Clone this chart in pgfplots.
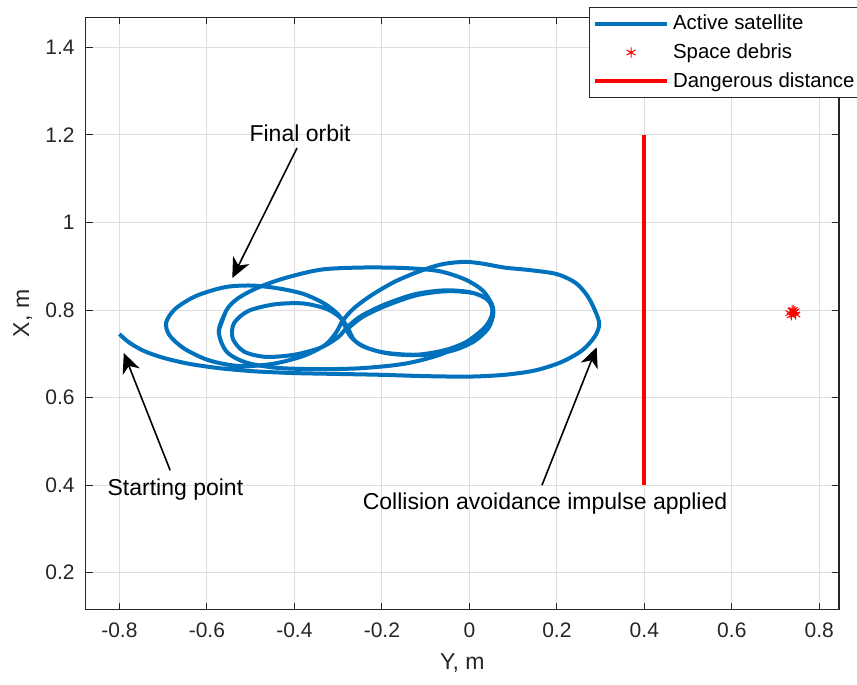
\documentclass[border=0pt]{standalone}
\usepackage{pgfplots}
\pgfplotsset{compat=1.18}
\usepackage{fontspec}
\setmainfont{Liberation Sans}
\usetikzlibrary{arrows.meta}
\definecolor{matblue}{rgb}{0,0.447,0.741}
\definecolor{axgray}{rgb}{0.15,0.15,0.15}
\definecolor{gridgray}{rgb}{0.87,0.87,0.87}
\pgfplotsset{
    linelegend/.style={legend image code/.code={\draw[##1] (0pt,0pt) -- (36pt,0pt);}},
    marklegend/.style={legend image code/.code={\draw[##1] plot coordinates {(18pt,0pt)};}},
}
\begin{document}
\begin{tikzpicture}
\begin{axis}[
    name=ax,
    scale only axis,
    width=376.5pt,
    height=296pt,
    xmin=-0.877, xmax=0.845,
    ymin=0.116, ymax=1.4686,
    xtick={-0.8,-0.6,-0.4,-0.2,0,0.2,0.4,0.6,0.8},
    ytick={0.2,0.4,0.6,0.8,1,1.2,1.4},
    xticklabels={-0.8,-0.6,-0.4,-0.2,0,0.2,0.4,0.6,0.8},
    yticklabels={0.2,0.4,0.6,0.8,1,1.2,1.4},
    tick label style={font=\fontsize{10.5}{12}\selectfont, text=axgray},
    xticklabel style={yshift=-3pt},
    yticklabel style={xshift=-2pt},
    xlabel={Y, m},
    ylabel={X, m},
    every axis x label/.style={at={(rel axis cs:0.5,0)}, anchor=center, yshift=-27pt,
        font=\fontsize{11.5}{13}\selectfont, text=axgray},
    every axis y label/.style={at={(rel axis cs:0,0.5)}, anchor=center, xshift=-31.5pt, rotate=90,
        font=\fontsize{11.5}{13}\selectfont, text=axgray},
    grid=major,
    major grid style={gridgray, line width=0.5pt},
    tick align=inside,
    major tick length=3.5pt,
    tick style={axgray, line width=0.5pt},
    axis line style={axgray, line width=0.6pt},
    legend style={at={(0.6675,1.0169)}, anchor=north west, draw=axgray, line width=0.5pt,
        font=\fontsize{10.2}{12}\selectfont, cells={anchor=west}, row sep=1.5pt,
        inner xsep=2pt, inner ysep=1.5pt},
]
% satellite trajectory: tail, right loop, then lobes around the knot
\addplot[matblue, line width=2pt, smooth, linelegend] coordinates {
(-0.800,0.745) (-0.778,0.726) (-0.745,0.707) (-0.700,0.691) (-0.640,0.677)
(-0.570,0.667) (-0.490,0.660) (-0.400,0.656) (-0.300,0.654) (-0.200,0.652)
(-0.100,0.649) (0.000,0.648) (0.080,0.652) (0.150,0.662) (0.210,0.681)
(0.258,0.708) (0.287,0.740) (0.297,0.768) (0.288,0.797) (0.270,0.832)
(0.243,0.862) (0.200,0.882) (0.140,0.891) (0.080,0.897) (0.030,0.906)
(-0.010,0.910) (-0.060,0.905) (-0.110,0.890) (-0.170,0.865) (-0.225,0.833)
(-0.265,0.803) (-0.290,0.775) (-0.305,0.748)
(-0.330,0.720) (-0.380,0.695) (-0.450,0.677) (-0.525,0.672) (-0.595,0.685)
(-0.652,0.712) (-0.686,0.743) (-0.693,0.772) (-0.672,0.803) (-0.625,0.832)
(-0.560,0.852) (-0.500,0.856) (-0.440,0.850) (-0.380,0.837) (-0.332,0.815)
(-0.300,0.790) (-0.285,0.765)
(-0.272,0.740) (-0.245,0.718) (-0.195,0.703) (-0.120,0.698) (-0.050,0.710)
(0.005,0.733) (0.040,0.763) (0.053,0.796) (0.042,0.823) (0.005,0.840)
(-0.055,0.845) (-0.125,0.836) (-0.195,0.812) (-0.248,0.786) (-0.278,0.762)
(-0.300,0.738) (-0.340,0.714) (-0.400,0.698) (-0.465,0.693) (-0.515,0.705)
(-0.541,0.735) (-0.538,0.770) (-0.505,0.798) (-0.445,0.813) (-0.380,0.815)
(-0.325,0.802) (-0.292,0.780) (-0.276,0.755)
(-0.262,0.730) (-0.230,0.712) (-0.180,0.700) (-0.110,0.697) (-0.040,0.707)
(0.010,0.728) (0.043,0.758) (0.055,0.793) (0.047,0.820) (0.012,0.838)
(-0.050,0.843) (-0.120,0.834) (-0.190,0.810) (-0.243,0.785) (-0.275,0.760)
};
\addlegendentry{Active satellite}
\addplot[red, only marks, mark=asterisk, mark size=2.6pt, line width=0.5pt, marklegend] coordinates {
(0.733,0.793) (0.738,0.798) (0.742,0.795) (0.746,0.790) (0.740,0.800)
(0.736,0.788) (0.744,0.797)
};
\addlegendentry{Space debris}
\addplot[red, line width=2pt, linelegend] coordinates {(0.4,0.4) (0.4,1.2)};
\addlegendentry{Dangerous distance}
% big loop through the left middle lobe
\addplot[matblue, line width=2pt, smooth, forget plot] coordinates {
(-0.573,0.752) (-0.555,0.800) (-0.530,0.826) (-0.486,0.850) (-0.425,0.872)
(-0.341,0.892) (-0.250,0.897) (-0.150,0.896) (-0.070,0.889) (-0.010,0.870)
(0.030,0.845) (0.050,0.815) (0.052,0.790) (0.035,0.760) (-0.010,0.725)
(-0.070,0.697) (-0.150,0.677) (-0.250,0.667) (-0.350,0.665) (-0.440,0.668)
(-0.510,0.680) (-0.555,0.705) (-0.573,0.752) (-0.555,0.800)
};
\draw[line width=0.8pt, -{Stealth[length=10pt, width=9pt, inset=3pt]}]
    (axis cs:-0.394,1.170) -- (axis cs:-0.542,0.873);
\draw[line width=0.8pt, -{Stealth[length=10pt, width=9pt, inset=3pt]}]
    (axis cs:-0.684,0.434) -- (axis cs:-0.790,0.702);
\draw[line width=0.8pt, -{Stealth[length=10pt, width=9pt, inset=3pt]}]
    (axis cs:0.166,0.400) -- (axis cs:0.291,0.715);
\node[font=\fontsize{11.5}{13}\selectfont] at (axis cs:-0.387,1.204) {Final orbit};
\node[font=\fontsize{11.5}{13}\selectfont] at (axis cs:-0.672,0.389) {Starting point};
\node[font=\fontsize{11.5}{13}\selectfont] at (axis cs:0.173,0.359) {Collision avoidance impulse applied};
\end{axis}
\pgfresetboundingbox
\path ([xshift=-42.85pt,yshift=-37.35pt]ax.south west) rectangle ([xshift=9pt,yshift=8.65pt]ax.north east);
\end{tikzpicture}
\end{document}
